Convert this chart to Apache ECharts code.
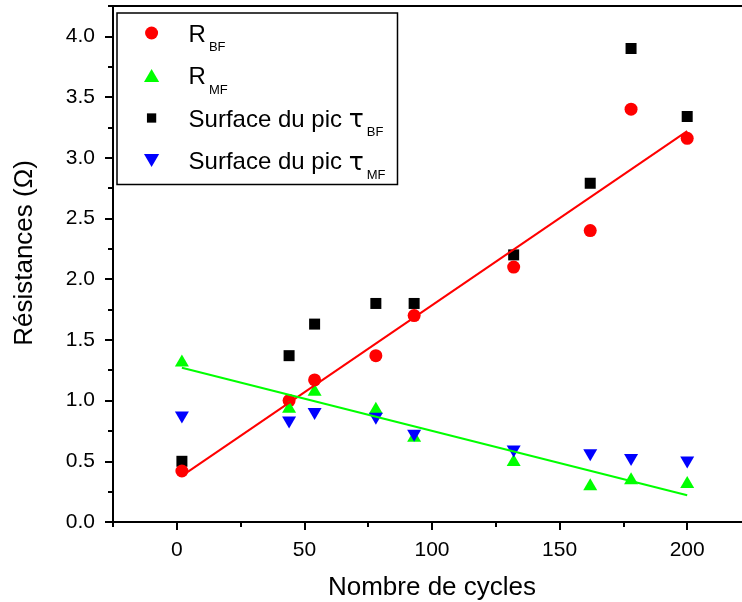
<!DOCTYPE html>
<html>
<head>
<meta charset="utf-8">
<script src="https://cdn.jsdelivr.net/npm/echarts@6/dist/echarts.min.js"></script>
<style>
  html, body { margin: 0; padding: 0; background: #fff; }
  #chart { width: 742px; height: 602px; }
</style>
</head>
<body>
<div id="chart"></div>
<script>
// valeurs
const cycles = [2, 44, 54, 78, 93, 132, 162, 178, 200];
const rBF = [0.42, 1.00, 1.17, 1.37, 1.70, 2.10, 2.40, 3.40, 3.16];
const rMF = [1.33, 0.95, 1.09, 0.94, 0.71, 0.51, 0.31, 0.36, 0.33];
const surfBF = [0.50, 1.37, 1.63, 1.80, 1.80, 2.20, 2.79, 3.90, 3.34];
const surfMF = [0.86, 0.82, 0.89, 0.85, 0.71, 0.58, 0.55, 0.51, 0.49];

// droites de régression (extrémités)
const fitX = [2, 200];
const fitBF = [0.38, 3.22];
const fitMF = [1.27, 0.22];

const FONT = "'Liberation Sans', Arial, sans-serif";

const pairs = (xs, ys) => xs.map((x, i) => [x, ys[i]]);

const chart = echarts.init(document.getElementById('chart'), null, { renderer: 'canvas' });

const hiddenAxis = (idx) => ({
    gridIndex: idx, type: 'value', show: false, min: 0, max: 1,
    axisLine: { show: false, onZero: false }
});

chart.setOption({
    backgroundColor: '#fff',
    animation: false,
    textStyle: { fontFamily: FONT, color: '#000' },
    grid: [
        // grille des données : x de -25 à 225, y de 0 à 4.25
        { left: 113, top: 6, width: 638, height: 516, outerBoundsMode: 'none', containLabel: false,
          show: true, borderColor: '#000', borderWidth: 2, backgroundColor: 'transparent' },
        // graduations principales en x (0..200)
        { left: 176.8, top: 6, width: 510.4, height: 516, outerBoundsMode: 'none', containLabel: false },
        // graduations principales en y (0..4)
        { left: 113, top: 36.35, width: 638, height: 485.65, outerBoundsMode: 'none', containLabel: false }
    ],
    xAxis: [
        {
            gridIndex: 0, type: 'value', min: -25, max: 225, interval: 25,
            axisLine: { show: true, onZero: false, lineStyle: { color: '#000', width: 2 } },
            axisTick: { show: true, length: 5, lineStyle: { color: '#000', width: 2 } },
            axisLabel: { show: false },
            splitLine: { show: false }
        },
        {
            gridIndex: 1, type: 'value', min: 0, max: 200, interval: 50,
            axisLine: { show: false, onZero: false },
            axisTick: { show: true, length: 8, lineStyle: { color: '#000', width: 2 } },
            axisLabel: { show: true, fontSize: 21, color: '#000', fontFamily: FONT, margin: 18 },
            splitLine: { show: false },
            name: 'Nombre de cycles',
            nameLocation: 'middle',
            nameGap: 53,
            nameTextStyle: { fontSize: 26, color: '#000', fontFamily: FONT }
        },
        hiddenAxis(2)
    ],
    yAxis: [
        {
            gridIndex: 0, type: 'value', min: 0, max: 4.25, interval: 0.25,
            axisLine: { show: true, onZero: false, lineStyle: { color: '#000', width: 2 } },
            axisTick: { show: true, length: 5, lineStyle: { color: '#000', width: 2 } },
            axisLabel: { show: false },
            splitLine: { show: false }
        },
        hiddenAxis(1),
        {
            gridIndex: 2, type: 'value', min: 0, max: 4, interval: 0.5,
            axisLine: { show: false, onZero: false },
            axisTick: { show: true, length: 8, lineStyle: { color: '#000', width: 2 } },
            axisLabel: {
                show: true, fontSize: 21, color: '#000', fontFamily: FONT, margin: 18,
                formatter: (v) => v.toFixed(1)
            },
            splitLine: { show: false }
        }
    ],
    legend: {
        orient: 'vertical',
        left: 117, top: 13,
        padding: [6, 12, 3, 27],
        itemGap: 7.5,
        itemWidth: 64, itemHeight: 13,
        selectedMode: false,
        borderColor: '#000', borderWidth: 1.5,
        data: [
            { name: 'R_BF' },
            { name: 'R_MF', icon: 'path://M7,0 L14,12 L0,12 Z' },
            { name: 'Surface du pic τ_BF', icon: 'path://M-2,-2 M12,12 M0,0 L10,0 L10,10 L0,10 Z' },
            { name: 'Surface du pic τ_MF', icon: 'path://M0,0 L14,0 L7,12 Z' }
        ],
        formatter: (name) => {
            const [main, sub] = name.split('_');
            if (main.endsWith('τ')) {
                return '{n|' + main.slice(0, -1) + '}{t|τ}{s|' + sub + '}';
            }
            return '{n|' + main + '}{s|' + sub + '}';
        },
        textStyle: {
            color: '#000', fontFamily: FONT, fontSize: 24,
            rich: {
                n: { fontSize: 24, fontFamily: FONT, color: '#000', lineHeight: 28, verticalAlign: 'top', padding: [4, 0, 0, 0] },
                t: { fontSize: 25, fontFamily: "'DejaVu Sans', sans-serif", color: '#000', lineHeight: 28, verticalAlign: 'top', padding: [4, 0, 0, 0] },
                s: { fontSize: 13, fontFamily: FONT, color: '#000', lineHeight: 14, verticalAlign: 'top', padding: [22, 0, 0, 3] }
            }
        }
    },
    graphic: [
        {
            type: 'text',
            x: 25, y: 253,
            rotation: Math.PI / 2,
            style: {
                text: 'Résistances (Ω)',
                font: '26px ' + FONT,
                fill: '#000',
                align: 'center',
                verticalAlign: 'middle'
            }
        }
    ],
    series: [
        {
            name: 'Surface du pic τ_BF', type: 'scatter',
            symbol: 'rect', symbolSize: 11,
            itemStyle: { color: '#000000', opacity: 1 },
            data: pairs(cycles, surfBF)
        },
        {
            name: 'R_BF', type: 'scatter',
            symbol: 'circle', symbolSize: 13,
            itemStyle: { color: '#ff0000', opacity: 1 },
            data: pairs(cycles, rBF)
        },
        {
            name: 'R_MF', type: 'scatter',
            symbol: 'triangle', symbolSize: [14, 12],
            itemStyle: { color: '#00ff00', opacity: 1 },
            data: pairs(cycles, rMF)
        },
        {
            name: 'Surface du pic τ_MF', type: 'scatter',
            symbol: 'triangle', symbolSize: [14, 12], symbolRotate: 180,
            itemStyle: { color: '#0000ff', opacity: 1 },
            data: pairs(cycles, surfMF)
        },
        {
            name: 'fitBF', type: 'line',
            showSymbol: false, symbol: 'none',
            lineStyle: { color: '#ff0000', width: 2 },
            data: pairs(fitX, fitBF)
        },
        {
            name: 'fitMF', type: 'line',
            showSymbol: false, symbol: 'none',
            lineStyle: { color: '#00ff00', width: 2 },
            data: pairs(fitX, fitMF)
        }
    ]
});
</script>
</body>
</html>
